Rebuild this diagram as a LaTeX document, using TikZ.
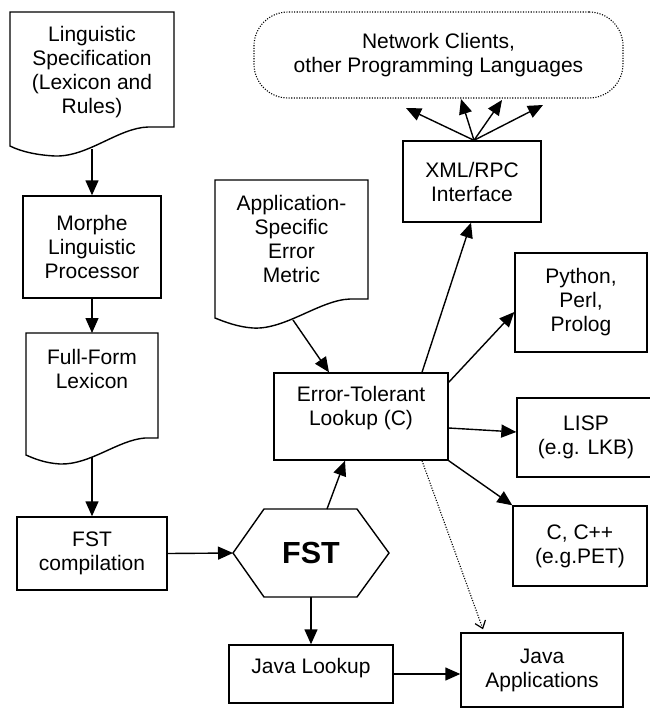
\documentclass[tikz,border=0pt]{standalone}
\usepackage{fontspec}
\setmainfont{Liberation Sans}
\usetikzlibrary{arrows.meta}
\begin{document}
\begin{tikzpicture}[x=1pt,y=-1pt,
  txt/.style={font=\fontsize{21}{24}\selectfont, align=center, inner sep=0pt},
  box/.style={draw, line width=1.4pt, txt},
  outline/.style={draw, line width=1.4pt, line join=miter},
  conn/.style={line width=1.4pt, -{Triangle[length=15pt,width=13pt]}},
  dotconn/.style={line width=1.1pt, dash pattern=on 1.1pt off 1.5pt, -{Straight Barb[length=7pt,width=11pt,line width=1.2pt,sep=0pt]}}
]
\useasboundingbox (0,0) rectangle (650,710);
\clip (0,0) rectangle (650,710);

% documents (drawn shapes)
\draw[outline] (10,12) -- (174,12) -- (174,127) -- (148,127)
  .. controls (118,128) and (88,157) .. (55,156)
  .. controls (35,155) and (20,151) .. (10,146) -- cycle;
\node[txt] (lspec) at (92,72.5) {Linguistic\\Specification\\(Lexicon and\\Rules)};
\coordinate (lsout) at (92,149);

\draw[outline] (26,333) -- (158,333) -- (158,438) -- (145,438)
  .. controls (118,440) and (90,465) .. (60,464)
  .. controls (45,463) and (35,459) .. (26,455) -- cycle;
\node[txt] (fulltext) at (92,369) {Full-Form\\Lexicon};
\coordinate (fftop) at (92,333);
\coordinate (ffout) at (92,457);

\draw[outline] (215,180) -- (368,180) -- (368,299) -- (350,299)
  .. controls (320,300) and (285,330) .. (253,328)
  .. controls (238,327) and (225,322) .. (215,318) -- cycle;
\node[txt] (apptext) at (291.5,239) {Application-\\Specific\\Error\\Metric};
\coordinate (asout) at (293,320);

% hexagon
\draw[outline] (233,553) -- (264,509) -- (357,509) -- (389,553) -- (357,597) -- (264,597) -- cycle;
\node[inner sep=0pt, font=\fontsize{30.5}{34}\selectfont\bfseries] (fst) at (311,553) {FST};
\coordinate (hexL) at (233,553);
\coordinate (hexT) at (327,509);
\coordinate (hexB) at (311,597);

% boxes
\node[box, minimum width=138pt, minimum height=102pt] (morphe) at (92,247) {Morphe\\Linguistic\\Processor};
\node[box, minimum width=150pt, minimum height=73pt] (fstc) at (92,553.5) {FST\\compilation};
\node[draw, line width=1.4pt, minimum width=174pt, minimum height=87pt] (et) at (361,416.5) {};
\node[txt] (ettext) at (361,408.5) {Error-Tolerant\\Lookup (C)};
\node[box, minimum width=138pt, minimum height=81pt] (xml) at (472,181.5) {XML/RPC\\Interface};
\node[box, minimum width=132pt, minimum height=99pt] (python) at (581,302.5) {Python,\\Perl,\\Prolog};
\node[box, minimum width=138pt, minimum height=79pt] (lisp) at (586,437.5) {LISP\\(e.g. LKB)};
\node[box, minimum width=134pt, minimum height=80pt] (cpp) at (580,546) {C, C++\\(e.g.PET)};
\node[draw, line width=1.4pt, minimum width=164pt, minimum height=58pt] (jlook) at (311,674) {};
\node[txt] (jltext) at (311,668) {Java Lookup};
\node[box, minimum width=162pt, minimum height=74pt] (japps) at (542,670) {Java\\Applications};
\node[txt, draw, line width=1.1pt, dash pattern=on 1.1pt off 1.5pt, rounded corners=34pt,
  minimum width=369pt, minimum height=86pt] (net) at (438.5,55) {Network Clients,\\other Programming Languages};

\coordinate (n1) at (406,108);
\coordinate (n2) at (461,99);
\coordinate (n3) at (502,100);
\coordinate (n4) at (543,105);

% connectors
\draw[conn] (lsout) -- (morphe.north);
\draw[conn] (morphe.south) -- (fftop);
\draw[conn] (ffout) -- (fstc.north);
\draw[conn] (fstc.east) -- (hexL);
\draw[conn] (hexT) -- ([xshift=-16pt]et.south);
\draw[conn] (hexB) -- (jlook.north);
\draw[conn] (jlook.east) -- (jlook.east -| japps.west);
\draw[conn] (asout) -- ([xshift=-32pt]et.north);
\draw[conn] ([xshift=61pt]et.north) -- ([xshift=-1pt]xml.south);
\draw[conn] ([yshift=-10pt]et.north east) -- ([yshift=-9.5pt]python.west);
\draw[conn] ([yshift=-11.5pt]et.east) -- ([yshift=5.5pt]lisp.west);
\draw[conn] (et.south east) -- (cpp.north west);
\draw[dotconn] ([xshift=61pt]et.south) -- ([xshift=-59pt,yshift=3pt]japps.north);
\draw[conn] ([xshift=2pt]xml.north) -- (n1);
\draw[conn] ([xshift=2pt]xml.north) -- (n2);
\draw[conn] ([xshift=2pt]xml.north) -- (n3);
\draw[conn] ([xshift=2pt]xml.north) -- (n4);
\end{tikzpicture}
\end{document}
